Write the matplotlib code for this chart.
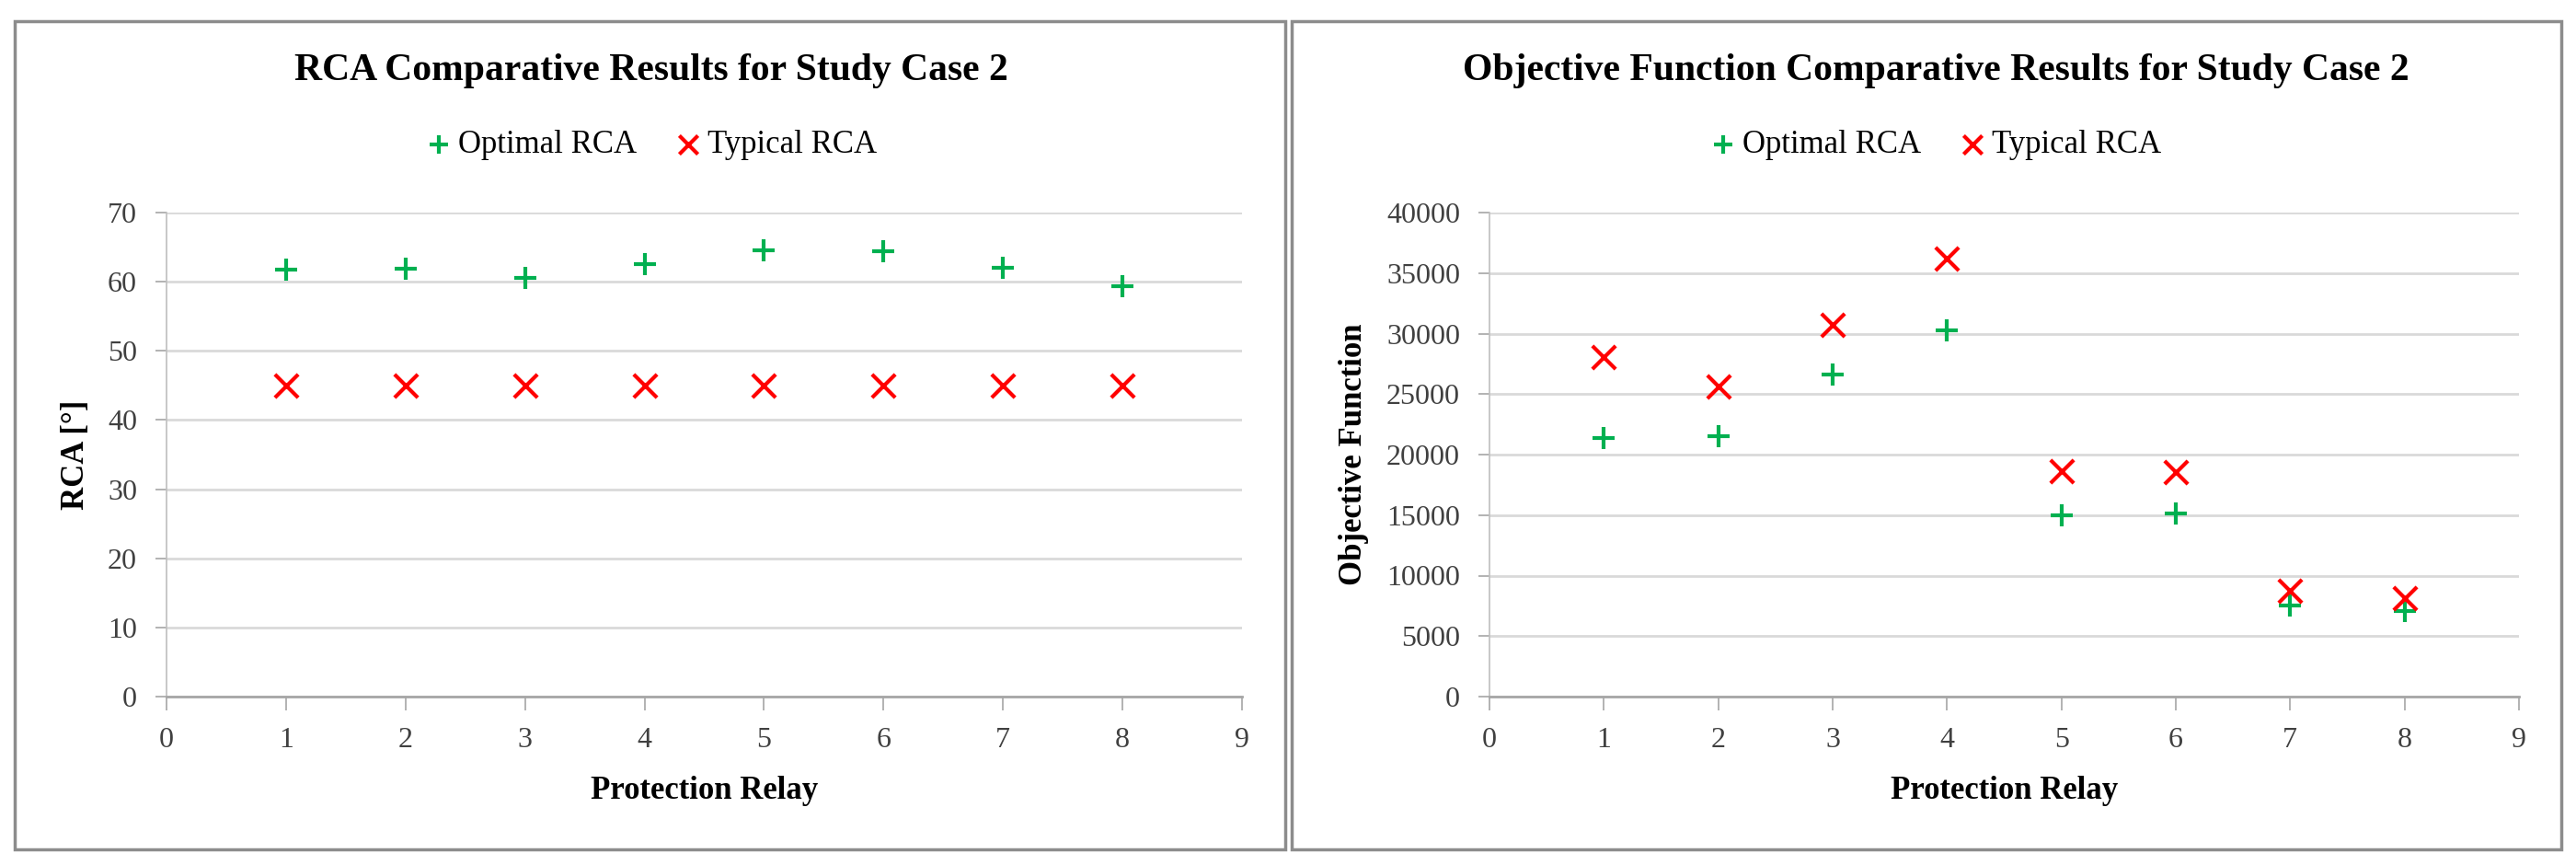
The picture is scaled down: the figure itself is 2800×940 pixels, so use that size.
import matplotlib.pyplot as plt
from matplotlib.patches import Rectangle

relays = [1, 2, 3, 4, 5, 6, 7, 8]

# RCA values (degrees)
rca_optimal = [61.7, 61.9, 60.5, 62.6, 64.6, 64.4, 62.0, 59.3]
rca_typical = [45, 45, 45, 45, 45, 45, 45, 45]

# objective function values
of_optimal = [21400, 21500, 26650, 30300, 14950, 15150, 7550, 7100]
of_typical = [28050, 25650, 30700, 36200, 18650, 18550, 8750, 8100]

plt.rcParams['font.family'] = ['Liberation Serif', 'DejaVu Serif']

green = '#00b050'
red = '#ff0000'
grid_c = '#d9d9d9'
axis_c = '#a6a6a6'
W, H = 2800, 940

fig = plt.figure(figsize=(28, 9.4), dpi=100)

# panel frames
for x0, w in [(16, 1381), (1404, 1380)]:
    fig.patches.append(Rectangle((x0 / W, 17 / H), w / W, 900 / H,
                                 transform=fig.transFigure, fill=False,
                                 edgecolor='#8c8c8c', linewidth=2.5))


def draw_panel(ax, y_opt, y_typ, ymax, ystep, title, ylabel, title_x, ylabel_x):
    ax.scatter(relays, y_opt, marker='+', s=300, color=green, linewidths=3.0,
               label='Optimal RCA', zorder=3)
    ax.scatter(relays, y_typ, marker='x', s=330, color=red, linewidths=3.0,
               label='Typical RCA', zorder=3)
    ax.set_xlim(0, 9)
    ax.set_ylim(0, ymax)
    ax.set_xticks(range(0, 10))
    ax.set_yticks(range(0, ymax + 1, ystep))
    ax.grid(axis='y', color=grid_c, linewidth=2)
    ax.set_axisbelow(True)
    for s in ['top', 'right']:
        ax.spines[s].set_visible(False)
    ax.spines['left'].set_color('#bfbfbf')
    ax.spines['left'].set_linewidth(1.2)
    ax.spines['bottom'].set_color(axis_c)
    ax.spines['bottom'].set_linewidth(2)
    ax.tick_params(axis='x', direction='out', length=11, width=1.2, color=axis_c,
                   labelsize=23, pad=13, labelcolor='#404040')
    ax.tick_params(axis='y', direction='out', length=9, width=1.2, color=axis_c,
                   labelsize=23, pad=14, labelcolor='#404040')
    # axis labels placed in figure pixels
    pos = ax.get_position()
    fig.text((pos.x0 + pos.x1) / 2, 1 - 860 / H, 'Protection Relay', fontsize=25,
             fontweight='bold', ha='center', va='center')
    fig.text(ylabel_x / W, (pos.y0 + pos.y1) / 2, ylabel, fontsize=25,
             fontweight='bold', rotation=90, ha='center', va='center')
    fig.text(title_x / W, 1 - 77 / H, title, fontsize=30, fontweight='bold',
             ha='center', va='center')
    fig.legend(handles=ax.collections, labels=['Optimal RCA', 'Typical RCA'],
               loc='center', bbox_to_anchor=(title_x / W, 1 - 158 / H), ncol=2,
               frameon=False, fontsize=25, handlelength=0.8, handletextpad=0.2,
               columnspacing=1.2, markerscale=0.8)


ax1 = fig.add_axes([181 / W, 183 / H, 1169 / W, 526 / H])
draw_panel(ax1, rca_optimal, rca_typical, 70, 10,
           'RCA Comparative Results for Study Case 2', 'RCA [°]', 708, 82)

ax2 = fig.add_axes([1619 / W, 183 / H, 1119 / W, 526 / H])
draw_panel(ax2, of_optimal, of_typical, 40000, 5000,
           'Objective Function Comparative Results for Study Case 2',
           'Objective Function', 2104, 1472)

fig.savefig('out.png', dpi=100, facecolor='white')
